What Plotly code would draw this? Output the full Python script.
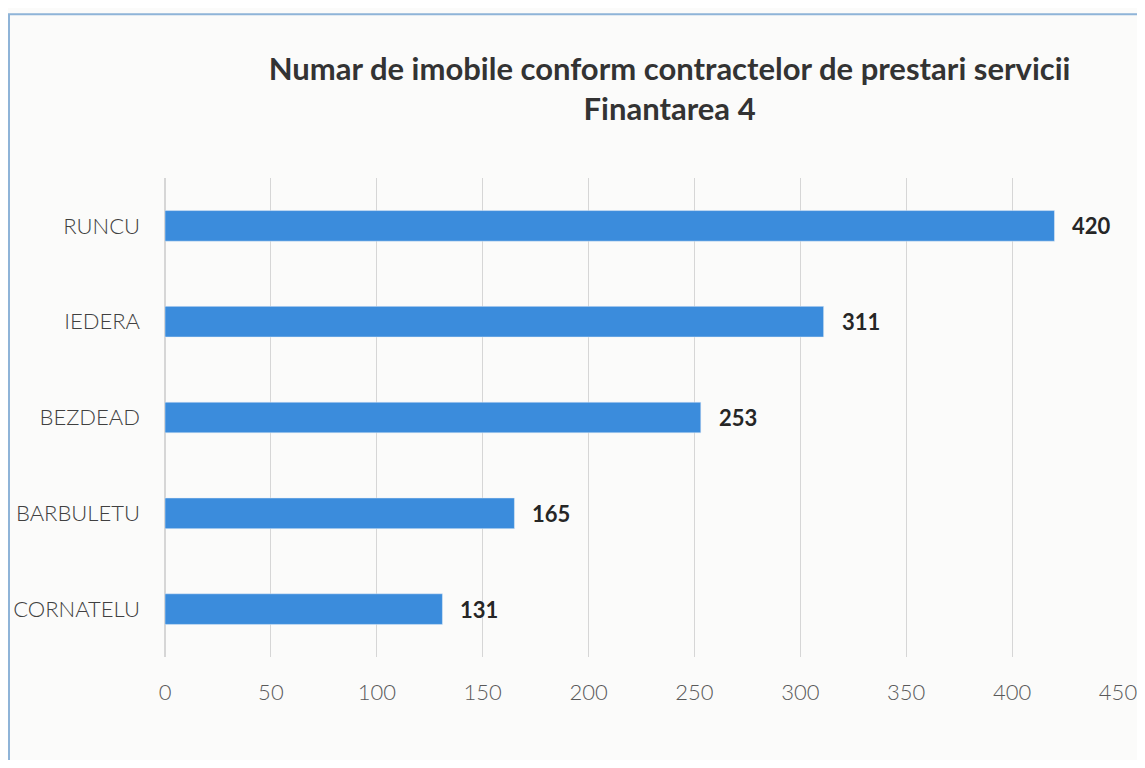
import plotly.graph_objects as go

comune = ["CORNATELU", "BARBULETU", "BEZDEAD", "IEDERA", "RUNCU"]
imobile = [131, 165, 253, 311, 420]
x_ticks = [0, 50, 100, 150, 200, 250, 300, 350, 400, 450]

fig = go.Figure()
fig.add_trace(go.Bar(
    y=comune, x=imobile, orientation="h",
    marker=dict(color="#3b8cdc"),
    width=0.32,
))

# etichete de valoare, putin departate de capatul barei
for c, v in zip(comune, imobile):
    fig.add_annotation(x=v, y=c, text=f"<b>{v}</b>", showarrow=False,
                       xanchor="left", xshift=16,
                       font=dict(size=22, color="#262626", family="Lato"))

fig.update_xaxes(
    range=[0, 450], tickvals=x_ticks, showgrid=True, gridcolor="#d6d6d6",
    zeroline=True, zerolinecolor="#d6d6d6", showline=False,
    tickfont=dict(size=22, color="#595959", family="Lato Light, Lato"),
    ticks="", ticklabelstandoff=20, automargin=False, ticklabeloverflow="allow",
)
fig.update_yaxes(
    showgrid=False, ticks="", ticklabelstandoff=24, automargin=False,
    tickfont=dict(size=22, color="#404040", family="Lato Light, Lato"),
)

fig.add_shape(type="rect", xref="paper", yref="paper",
              x0=-0.1637, x1=1.1, y0=-0.5, y1=1.342,
              line=dict(color="#8fb4d8", width=2), fillcolor="rgba(0,0,0,0)")

fig.update_layout(
    width=1129, height=752,
    margin=dict(l=157, r=19, t=170, b=103),
    paper_bgcolor="#fbfbfa", plot_bgcolor="#fbfbfa",
    font=dict(family="Lato"),
    title=dict(
        text="<b>Numar de imobile conform contractelor de prestari servicii<br>Finantarea 4</b>",
        x=0.586, xanchor="center", y=0.904, yanchor="middle",
        font=dict(size=31, color="#333333"),
        automargin=False,
    ),
    showlegend=False,
)

fig.write_html("out.html")
